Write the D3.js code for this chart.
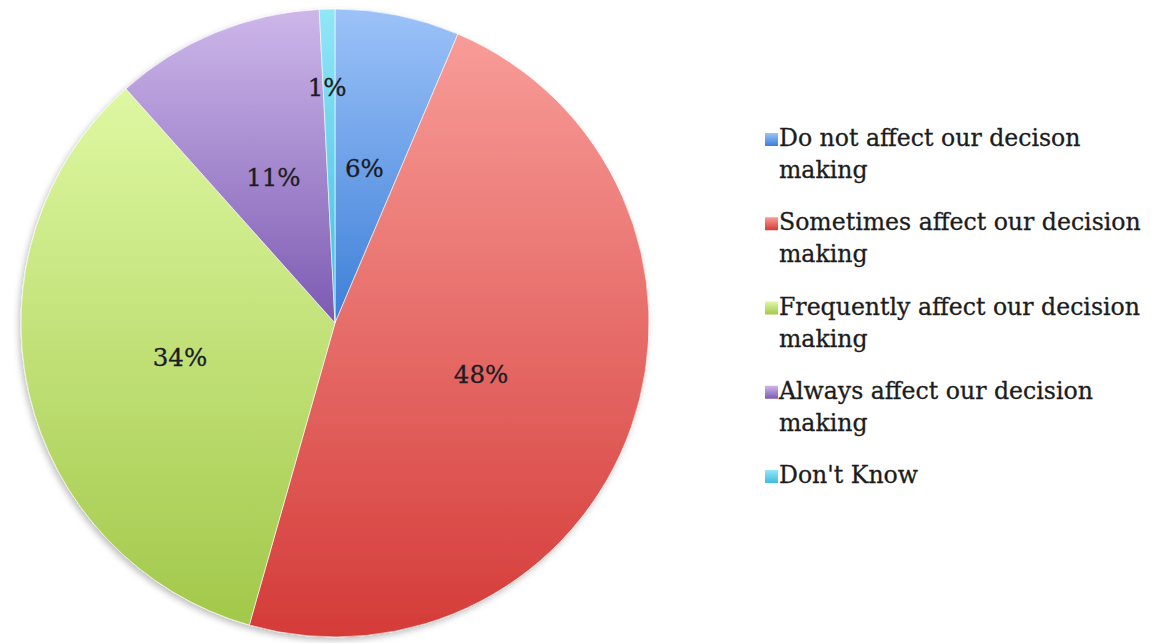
<!DOCTYPE html>
<html>
<head>
<meta charset="utf-8">
<script src="https://cdn.jsdelivr.net/npm/d3@7"></script>
<style>
  body { margin: 0; background: #fff; }
  svg { display: block; }
</style>
</head>
<body>
<div id="chart"></div>
<script>
const categories = [
    ["Do not affect our decison", "making"],
    ["Sometimes affect our decision", "making"],
    ["Frequently affect our decision", "making"],
    ["Always affect our decision", "making"],
    ["Don't Know"]
];
const shares = [6.4, 48.0, 34.0, 10.8, 0.8];
const colorsTop = ["#9cc2f8", "#f89c98", "#def8a2", "#cdb7ea", "#92e6f7"];
const colorsBottom = ["#3d7fd8", "#d43b38", "#a2c84a", "#7c5ab2", "#3fbde0"];

const width = 1160;
const height = 643;
const cx = 335, cy = 323, radius = 314;

const svg = d3.select('#chart')
    .append('svg')
        .attr('width', width)
        .attr('height', height);

const defs = svg.append('defs');
shares.forEach((d, i) => {
    const g = defs.append('linearGradient')
        .attr('id', 'grad' + i)
        .attr('x1', 0).attr('y1', 0)
        .attr('x2', 0).attr('y2', 1);
    g.append('stop').attr('offset', '0%').attr('stop-color', colorsTop[i]);
    g.append('stop').attr('offset', '100%').attr('stop-color', colorsBottom[i]);
});
const shadow = defs.append('filter')
    .attr('id', 'shadow')
    .attr('x', '-10%').attr('y', '-10%')
    .attr('width', '120%').attr('height', '120%');
shadow.append('feDropShadow')
    .attr('dx', -2).attr('dy', 3)
    .attr('stdDeviation', 3)
    .attr('flood-color', '#000')
    .attr('flood-opacity', 0.25);

const pie = d3.pie().sort(null).value(d => d);
const arcs = pie(shares);
const arc = d3.arc().innerRadius(0).outerRadius(radius);
const labelArc = d3.arc().innerRadius(radius * 0.5).outerRadius(radius * 0.5);
const smallArc = d3.arc().innerRadius(radius * 0.75).outerRadius(radius * 0.75);

const pieGroup = svg.append('g')
    .attr('transform', `translate(${cx}, ${cy})`);

pieGroup.append('g')
    .attr('filter', 'url(#shadow)')
    .selectAll('path')
    .data(arcs)
    .join('path')
        .attr('d', arc)
        .attr('fill', (d, i) => `url(#grad${i})`)
        .attr('stroke', '#ffffff')
        .attr('stroke-opacity', 0.6)
        .attr('stroke-width', 1);

const fmt = d3.format('.0f');
pieGroup.selectAll('text.pct')
    .data(arcs)
    .join('text')
        .attr('class', 'pct')
        .attr('transform', d => {
            const c = (d.data < 3 ? smallArc : labelArc).centroid(d);
            return `translate(${c[0] - 2}, ${c[1] + 8})`;
        })
        .attr('text-anchor', 'middle')
        .style('font-family', '"DejaVu Serif", serif')
        .style('font-size', '24.5px')
        .style('fill', '#1c1c24')
        .style('stroke', '#1c1c24')
        .style('stroke-width', 0.3)
        .text(d => fmt(d.data) + '%');

// legend
const legendX = 765;
const legendY = 146;
const itemStep = 84.25;
const lineStep = 32;

const legend = svg.append('g')
    .selectAll('g')
    .data(categories)
    .join('g')
        .attr('transform', (d, i) => `translate(${legendX}, ${legendY + itemStep * i})`);

legend.append('rect')
    .attr('x', 0)
    .attr('y', -13)
    .attr('width', 13)
    .attr('height', 13)
    .attr('fill', (d, i) => `url(#grad${i})`);

legend.each(function(d) {
    const t = d3.select(this).append('text')
        .attr('x', 14)
        .attr('y', 0)
        .style('font-family', '"DejaVu Serif", serif')
        .style('font-size', '23.6px')
        .style('fill', '#1c1c1c')
        .style('stroke', '#1c1c1c')
        .style('stroke-width', 0.3);
    d.forEach((line, j) => {
        t.append('tspan')
            .attr('x', 14)
            .attr('y', j * lineStep)
            .text(line);
    });
});
</script>
</body>
</html>
